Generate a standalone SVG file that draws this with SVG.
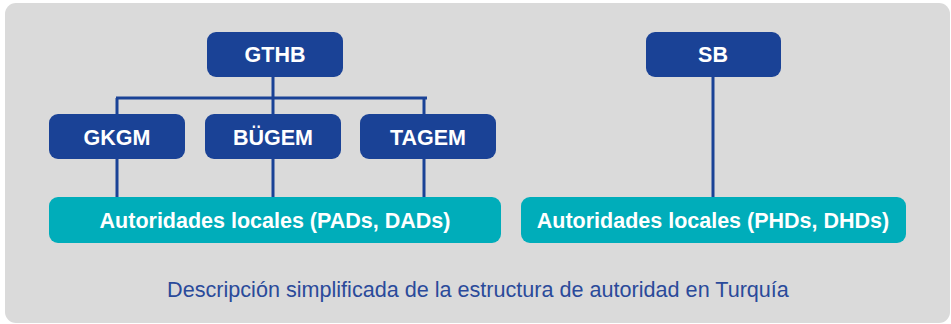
<svg xmlns="http://www.w3.org/2000/svg" width="951" height="324" viewBox="0 0 951 324">
<style>
.bg{fill:#dadada}
.n{fill:#1a4296}
.t{fill:#00adba}
.lbl{font-family:"Liberation Sans",Arial,sans-serif;font-weight:bold;font-size:21.5px;fill:#fff;text-anchor:middle}
.cap{font-family:"Liberation Sans",Arial,sans-serif;font-size:21.6px;fill:#2a4a9a;text-anchor:middle}
.c{stroke:#1a4296;stroke-width:3;fill:none}
</style>
<rect class="bg" x="5" y="3" width="945" height="320" rx="11"/>
<g id="connectors">
<path class="c" d="M273 77V98M116 98H427M117 98V114M273 98V114M424 98V114"/>
<path class="c" d="M117 159V197M273 159V197M424 159V197"/>
<path class="c" d="M713 77V197"/>
</g>
<g id="gthb"><rect class="n" x="207" y="32" width="136" height="45" rx="9"/><text class="lbl" x="275" y="62">GTHB</text></g>
<g id="gkgm"><rect class="n" x="49" y="114" width="136" height="45" rx="9"/><text class="lbl" x="117" y="145">GKGM</text></g>
<g id="bugem"><rect class="n" x="205" y="114" width="136" height="45" rx="9"/><text class="lbl" x="273" y="145">BÜGEM</text></g>
<g id="tagem"><rect class="n" x="360" y="114" width="136" height="45" rx="9"/><text class="lbl" x="428" y="145">TAGEM</text></g>
<g id="sb"><rect class="n" x="646" y="32" width="135" height="45" rx="9"/><text class="lbl" x="713" y="62">SB</text></g>
<g id="pads"><rect class="t" x="49" y="197" width="452" height="46" rx="9"/><text class="lbl" x="275" y="228">Autoridades locales (PADs, DADs)</text></g>
<g id="phds"><rect class="t" x="521" y="197" width="385" height="46" rx="9"/><text class="lbl" x="713" y="228">Autoridades locales (PHDs, DHDs)</text></g>
<text class="cap" x="478" y="297">Descripción simplificada de la estructura de autoridad en Turquía</text>
</svg>
